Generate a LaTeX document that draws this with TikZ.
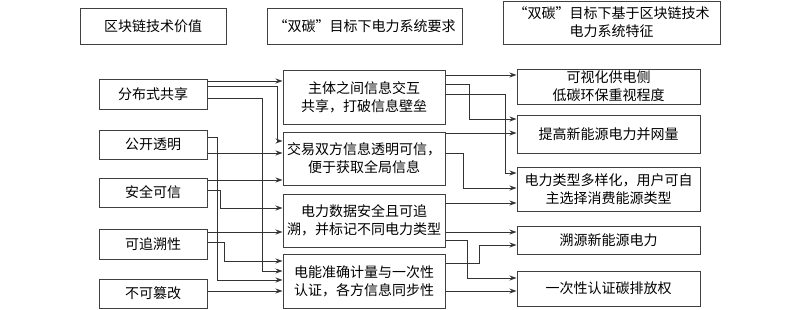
\documentclass[tikz,border=0pt]{standalone}
\usepackage{fontspec}
\setmainfont{Noto Sans CJK SC}
\usetikzlibrary{arrows.meta}
\begin{document}
\begin{tikzpicture}[x=1pt,y=-1pt,
  box/.style={draw=black!75, line width=1pt, inner sep=0pt, align=center, font=\fontsize{14}{18}\selectfont},
  lbox/.style={box, minimum width=108pt},
  mbox/.style={box, minimum width=162pt},
  rbox/.style={box, minimum width=183pt},
  arr/.style={draw=black!80, line width=0.9pt, -{Stealth[length=7pt,width=5pt]}}]
\useasboundingbox (0,0) rectangle (800,309);
% headers
\node[box, minimum width=146pt, minimum height=36pt] (H1) at (153,26) {区块链技术价值};
\node[box, minimum width=195pt, minimum height=36pt] (H2) at (364.5,26) {“双碳”目标下电力系统要求};
\node[box, minimum width=217pt, minimum height=43pt] (H3) at (611.5,22.5) {“双碳”目标下基于区块链技术\\电力系统特征};
% left
\node[lbox, minimum height=30pt] (L1) at (153,94) {分布式共享};
\node[lbox, minimum height=29pt] (L2) at (153,144.5) {公开透明};
\node[lbox, minimum height=29pt] (L3) at (153,192.5) {安全可信};
\node[lbox, minimum height=30pt] (L4) at (153,244) {可追溯性};
\node[lbox, minimum height=29pt] (L5) at (153,293.5) {不可篡改};
% middle
\node[mbox, minimum height=54pt] (M1) at (364,97) {主体之间信息交互\\共享，打破信息壁垒};
\node[mbox, minimum height=53pt] (M2) at (364,158.5) {交易双方信息透明可信，\\便于获取全局信息};
\node[mbox, minimum height=53pt] (M3) at (364,220.5) {电力数据安全且可追\\溯，并标记不同电力类型};
\node[mbox, minimum height=54pt] (M4) at (364,281) {电能准确计量与一次性\\认证，各方信息同步性};
% right
\node[rbox, minimum height=35pt] (R1) at (608.5,86.5) {可视化供电侧\\低碳环保重视程度};
\node[rbox, minimum height=38pt] (R2) at (608.5,134) {提高新能源电力并网量};
\node[rbox, minimum height=44pt] (R3) at (608.5,189) {电力类型多样化，用户可自\\主选择消费能源类型};
\node[rbox, minimum height=28pt] (R4) at (608.5,240) {溯源新能源电力};
\node[rbox, minimum height=35pt] (R5) at (608.5,288.5) {一次性认证碳排放权};
% left -> middle
\draw[arr] (L1.east |- 0,81) -- (M1.west |- 0,81);
\draw[arr] (L1.east |- 0,86) -| (277,141) -- (M2.west |- 0,141);
\draw[arr] (L1.east |- 0,98) -| (262,271) -- (M4.west |- 0,271);
\draw[arr] (L2.east |- 0,137) -| (217,280) -- (M4.west |- 0,280);
\draw[arr] (L2.east |- 0,153) -- (M2.west |- 0,153);
\draw[arr] (L3.east |- 0,180) -- (M2.west |- 0,180);
\draw[arr] (L3.east |- 0,190) -| (220,208) -- (M3.west |- 0,208);
\draw[arr] (L4.east |- 0,232) -- (M3.west |- 0,232);
\draw[arr] (L4.east |- 0,242) -| (224,261) -- (M4.west |- 0,261);
\draw[arr] (L5.east |- 0,291) -- (M4.west |- 0,291);
% middle -> right
\draw[arr] (M1.east |- 0,75) -- (R1.west |- 0,75);
\draw[arr] (M1.east |- 0,84) -| (469,119) -- (R2.west |- 0,119);
\draw[arr] (M1.east |- 0,94) -| (505,173) -- (R3.west |- 0,173);
\draw[arr] (M2.east |- 0,133) -- (R2.west |- 0,133);
\draw[arr] (M2.east |- 0,153) -| (463,188) -- (R3.west |- 0,188);
\draw[arr] (M3.east |- 0,203) -- (R3.west |- 0,203);
\draw[arr] (M3.east |- 0,232) -- (R4.west |- 0,232);
\draw[arr] (M3.east |- 0,240) -| (467,278) -- (R5.west |- 0,278);
\draw[arr] (M4.east |- 0,263) -| (479,245) -- (R4.west |- 0,245);
\draw[arr] (M4.east |- 0,291) -- (R5.west |- 0,291);
\end{tikzpicture}
\end{document}
